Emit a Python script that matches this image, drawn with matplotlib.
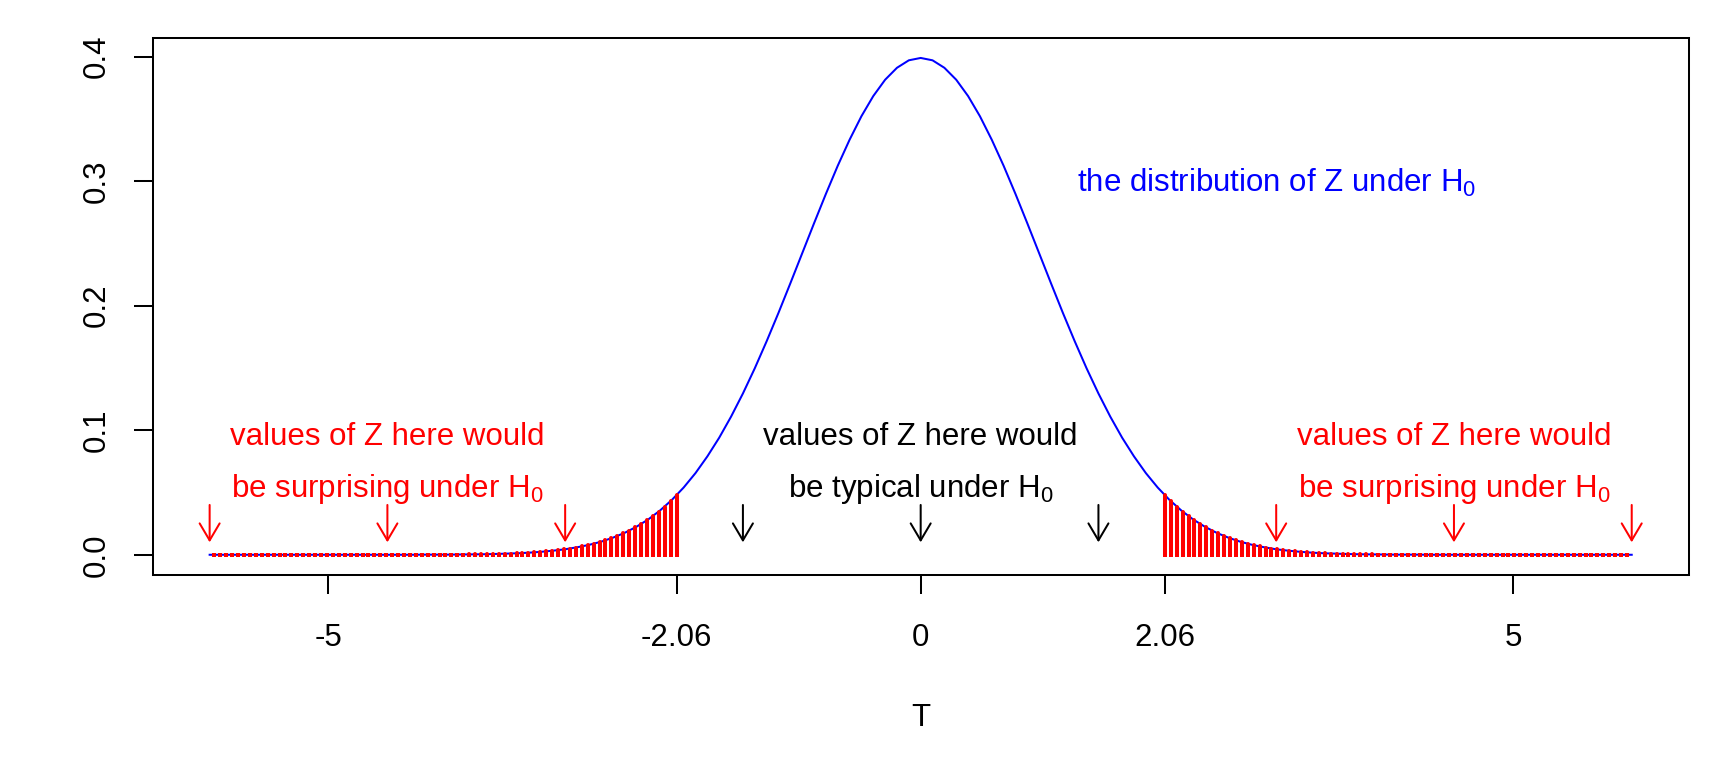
import numpy as np
import matplotlib
matplotlib.use("Agg")
import matplotlib.pyplot as plt

plt.rcParams['font.family'] = ['Liberation Sans', 'DejaVu Sans']
plt.rcParams['mathtext.fontset'] = 'custom'
plt.rcParams['mathtext.rm'] = 'Liberation Sans'
plt.rcParams['mathtext.it'] = 'Liberation Sans:italic'

# density of Z under H0, read at steps of 0.1 from -6 to 6
t_curve = np.round(np.arange(-60, 61) / 10, 1)
dens = [
    0, 0, 0, 0, 0, 0, 0, 0, 0, 0, 0, 0, 0, 0, 0, 0, 0, 0,
    0.0001, 0.0001, 0.0001,
    0.0002, 0.0003, 0.0004, 0.0006, 0.0009, 0.0012, 0.0017, 0.0024, 0.0033, 0.0044,
    0.0060, 0.0079, 0.0104, 0.0136, 0.0175, 0.0224, 0.0283, 0.0355, 0.0440, 0.0540,
    0.0656, 0.0790, 0.0940, 0.1109, 0.1295, 0.1497, 0.1714, 0.1942, 0.2179, 0.2420,
    0.2661, 0.2897, 0.3123, 0.3332, 0.3521, 0.3683, 0.3814, 0.3910, 0.3970,
    0.3989,
    0.3970, 0.3910, 0.3814, 0.3683, 0.3521, 0.3332, 0.3123, 0.2897, 0.2661,
    0.2420, 0.2179, 0.1942, 0.1714, 0.1497, 0.1295, 0.1109, 0.0940, 0.0790, 0.0656,
    0.0540, 0.0440, 0.0355, 0.0283, 0.0224, 0.0175, 0.0136, 0.0104, 0.0079, 0.0060,
    0.0044, 0.0033, 0.0024, 0.0017, 0.0012, 0.0009, 0.0006, 0.0004, 0.0003, 0.0002,
    0.0001, 0.0001, 0.0001,
    0, 0, 0, 0, 0, 0, 0, 0, 0, 0, 0, 0, 0, 0, 0, 0, 0, 0,
]

# rejection region bars (|T| >= 2.06, every 0.05)
t_crit = 2.06
t_tail = np.round(t_crit + 0.05 * np.arange(79), 2)
tail_h = [
    0.0478, 0.0431, 0.0387, 0.0347, 0.0310, 0.0277, 0.0246, 0.0219, 0.0194, 0.0171,
    0.0151, 0.0132, 0.0116, 0.0101, 0.0088, 0.0077, 0.0067, 0.0058, 0.0050, 0.0043,
    0.0037, 0.0032, 0.0027, 0.0023, 0.0020, 0.0017, 0.0014, 0.0012, 0.0010, 0.0008,
    0.0007, 0.0006, 0.0005, 0.0004, 0.0003, 0.0003, 0.0002, 0.0002, 0.0002, 0.0001,
    0.0001, 0.0001, 0.0001, 0.0001,
    0, 0, 0, 0, 0, 0, 0, 0, 0, 0, 0, 0, 0, 0, 0, 0, 0, 0, 0, 0,
    0, 0, 0, 0, 0, 0, 0, 0, 0, 0, 0, 0, 0, 0, 0,
]

# arrows
arrow_red = [-6, -4.5, -3, 3, 4.5, 6]
arrow_black = [-1.5, 0, 1.5]
arrow_top, arrow_tip = 0.04, 0.01

xticks = [-5, -t_crit, 0, t_crit, 5]
xticklabels = ['-5', '-2.06', '0', '2.06', '5']
yticks = [0.0, 0.1, 0.2, 0.3, 0.4]

FS = 22.5
LW = 1.45

fig = plt.figure(figsize=(17.28, 7.68), dpi=100)
ax = fig.add_axes([0.0884, 0.2517, 0.9772 - 0.0884, 0.9505 - 0.2517])

ax.plot(t_curve, dens, color='#0000FF', lw=LW, zorder=2)

for side in (-1, 1):
    vl = ax.vlines(side * t_tail, 0, tail_h, color='#FF0000', lw=2.9, zorder=3)
    vl.set_capstyle('round')
    # base of each bar (zero-height bars still leave a red dot in the original)
    ax.plot(side * t_tail, np.zeros(len(t_tail)), 's', color='#FF0000',
            ms=2.6, mew=0, zorder=3)

for xs, col in ((arrow_red, '#FF0000'), (arrow_black, 'black')):
    for x in xs:
        ax.annotate('', xy=(x, arrow_tip), xytext=(x, arrow_top),
                    arrowprops=dict(arrowstyle='->,head_length=1.22,head_width=0.72',
                                    mutation_scale=10, color=col, lw=LW,
                                    shrinkA=0, shrinkB=0))

y1, y2 = 0.088, 0.0465
for x, col, word in ((-4.5, '#FF0000', 'surprising'), (0, 'black', 'typical'),
                     (4.5, '#FF0000', 'surprising')):
    ax.text(x, y1, 'values of Z here would', color=col, fontsize=FS,
            ha='center', va='baseline')
    ax.text(x, y2, 'be %s under $\\mathrm{H_0}$' % word, color=col, fontsize=FS,
            ha='center', va='baseline')

ax.text(3, 0.2915, 'the distribution of Z under $\\mathrm{H_0}$', color='#0000FF',
        fontsize=FS, ha='center', va='baseline')

ax.set_xlim(-6.48, 6.48)
ax.set_ylim(-0.016, 0.4149)
ax.set_xticks(xticks)
ax.set_xticklabels(xticklabels)
ax.set_yticks(yticks)
ax.set_yticklabels(['%.1f' % v for v in yticks], rotation=90, va='center')
ax.tick_params(axis='both', labelsize=FS, length=13.7, width=LW)
ax.tick_params(axis='x', pad=21)
ax.tick_params(axis='y', pad=16)
for s in ax.spines.values():
    s.set_linewidth(LW)
ax.set_xlabel('T', fontsize=FS, labelpad=36)

fig.savefig('out.png', dpi=100, facecolor='white')
